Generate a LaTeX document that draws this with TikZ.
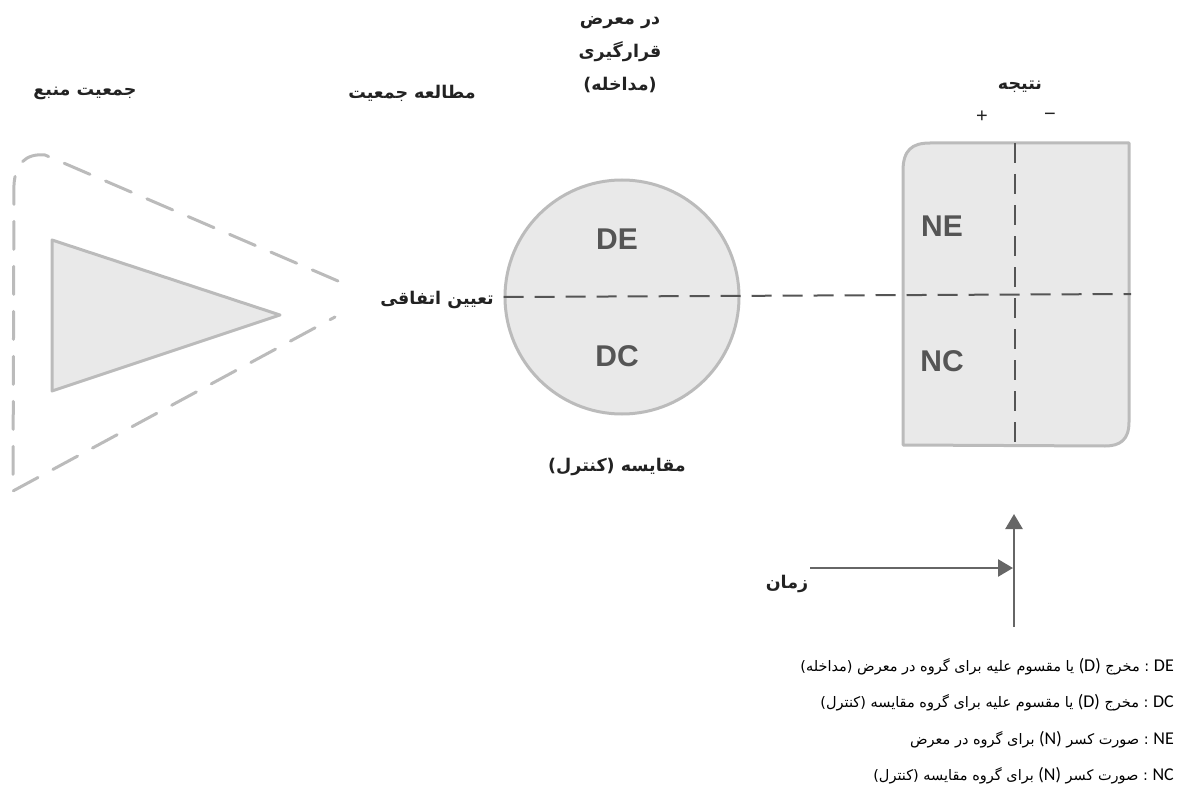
\documentclass[tikz,border=0pt]{standalone}
\usepackage{fontspec}
\setmainfont{Liberation Sans}
\newfontfamily\arfont[Script=Arabic]{DejaVu Sans}
\newfontfamily\latfont{Carlito}
\TeXXeTstate=1
\usetikzlibrary{arrows.meta}
\definecolor{sk}{HTML}{BBBBBB}
\definecolor{fl}{HTML}{E9E9E9}
\definecolor{dk}{HTML}{555555}
\definecolor{arrcol}{HTML}{666666}
\definecolor{txt}{HTML}{222222}
\newcommand{\legL}[1]{{\latfont\fontsize{18}{20}\selectfont\beginL #1\endL}}
\begin{document}
\begin{tikzpicture}[x=1pt,y=-1pt,
  lbl/.style={font=\arfont\bfseries\fontsize{17.5}{33}\selectfont, text=txt, align=center},
  big/.style={font=\bfseries\fontsize{30}{32}\selectfont, text=dk},
  leg/.style={anchor=east, inner sep=0pt, text=black, font=\arfont\fontsize{14.5}{16}\selectfont},
  shp/.style={draw=sk, line width=3pt, fill=fl, line join=round},
  outer/.style={draw=sk, line width=3pt, line cap=round, dash pattern=on 28pt off 17pt},
  split/.style={draw=dk, line width=2pt, dash pattern=on 20pt off 11pt},
  timearrow/.style={draw=arrcol, line width=2.5pt, -{Triangle[length=15pt,width=17pt]}},
  sign/.style={font=\fontsize{20}{22}\selectfont, text=txt}]
\useasboundingbox (0,0) rectangle (1184,797);

% source population (outer dashed) and study population (triangle)
\coordinate (o1) at (338,281);
\coordinate (o2) at (45,155);
\coordinate (o3) at (14,185);
\coordinate (o4) at (13,491);
\coordinate (o5) at (335,317);
\draw[outer] (o1) -- (o2) .. controls (25,153) and (15,165) .. (o3) -- (o4) -- (o5);

\coordinate (t1) at (52,240);
\coordinate (t2) at (280,315);
\coordinate (t3) at (52,391);
\draw[shp] (t1) -- (t2) -- (t3) -- cycle;

% exposure circle
\node[shp, circle, minimum size=234pt, inner sep=0pt] (circ) at (622,297) {};
\node[big] (de) at (617,239) {DE};
\node[big] (dc) at (617,356) {DC};

% outcome box
\coordinate (r1) at (903,171);
\coordinate (r2) at (930,143);
\coordinate (r3) at (1129,143);
\coordinate (r4) at (1129,422);
\coordinate (r5) at (1105,446);
\coordinate (r6) at (903,445);
\draw[shp] (r1) .. controls (903,150) and (912,143) .. (r2) -- (r3) -- (r4)
  .. controls (1129,440) and (1120,446) .. (r5) -- (r6) -- cycle;
\coordinate (vtop) at (1015,143);
\coordinate (vbot) at (1015,445);
\draw[split] (vtop) -- (vbot);
\coordinate (hend) at (1131,294);
\draw[split] (circ.west) -- (hend);
\node[big] (ne) at (942,226) {NE};
\node[big] (nc) at (942,361) {NC};

% labels
\node[lbl] (srcpop) at (85,93) {\beginR جمعیت منبع\endR};
\node[lbl] (studypop) at (412,93) {\beginR مطالعه جمعیت\endR};
\node[lbl] (exposed) at (620,55) {\beginR در معرض\endR\\\beginR قرارگیری\endR\\\beginR (مداخله)\endR};
\node[lbl] (outcome) at (1020,87) {\beginR نتیجه\endR};
\node[sign] (plus) at (982,117) {+};
\node[sign] (minus) at (1050,117) {−};
\node[lbl] (random) at (437,300) {\beginR تعیین اتفاقی\endR};
\node[lbl] (compare) at (617,467) {\beginR مقایسه (کنترل)\endR};

% time arrows
\coordinate (ybot) at (1014,627);
\coordinate (ytop) at (1014,514);
\coordinate (xstart) at (810,568);
\coordinate (xend) at (1013,568);
\draw[timearrow] (ybot) -- (ytop);
\draw[timearrow] (xstart) -- (xend);
\node[lbl] (time) at (787,584) {\beginR زمان\endR};

% legend
\node[leg] (l1) at (1174,667) {\beginR\legL{DE} : مخرج \legL{(D)} یا مقسوم علیه برای گروه در معرض (مداخله)\endR};
\node[leg] (l2) at (1174,703) {\beginR\legL{DC} : مخرج \legL{(D)} یا مقسوم علیه برای گروه مقایسه (کنترل)\endR};
\node[leg] (l3) at (1174,740) {\beginR\legL{NE} : صورت کسر \legL{(N)} برای گروه در معرض\endR};
\node[leg] (l4) at (1174,776) {\beginR\legL{NC} : صورت کسر \legL{(N)} برای گروه مقایسه (کنترل)\endR};
\end{tikzpicture}
\end{document}
